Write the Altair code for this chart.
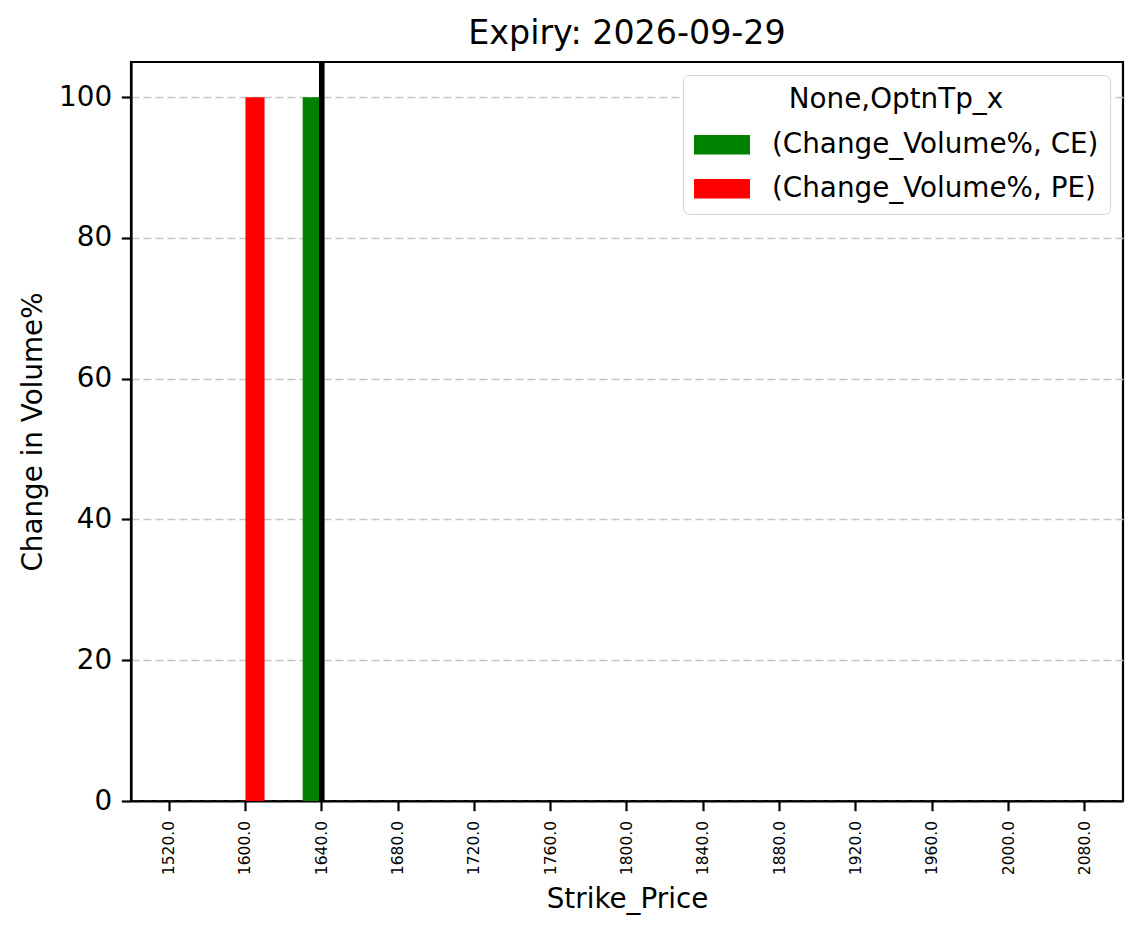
import altair as alt
import pandas as pd

# ---- data ----
strikes = [1520.0, 1600.0, 1640.0, 1680.0, 1720.0, 1760.0, 1800.0,
           1840.0, 1880.0, 1920.0, 1960.0, 2000.0, 2080.0]
ce_change = [0, 0, 100, 0, 0, 0, 0, 0, 0, 0, 0, 0, 0]
pe_change = [0, 100, 0, 0, 0, 0, 0, 0, 0, 0, 0, 0, 0]
series_types = ["CE", "PE"]
series_labels = ["(Change_Volume%, CE)", "(Change_Volume%, PE)"]
series_colors = ["#008000", "#ff0000"]
spot_strike = 1640.0
y_ticks = [0, 20, 40, 60, 80, 100]

strike_labels = [f"{s:.1f}" for s in strikes]

rows = []
for lab, ce, pe in zip(strike_labels, ce_change, pe_change):
    rows.append({"Strike": lab, "Type": "CE", "Series": series_labels[0], "Value": ce})
    rows.append({"Strike": lab, "Type": "PE", "Series": series_labels[1], "Value": pe})
df = pd.DataFrame(rows)
spot_df = pd.DataFrame({"Strike": [f"{spot_strike:.1f}"]})

FONT = "DejaVu Sans"
x_scale = alt.Scale(domain=strike_labels, paddingInner=0, paddingOuter=0)

bars = alt.Chart(df).mark_bar().encode(
    x=alt.X("Strike:N", scale=x_scale, title="Strike_Price",
            axis=alt.Axis(labelAngle=270, labelFontSize=15.5)),
    xOffset=alt.XOffset("Type:N", scale=alt.Scale(domain=series_types,
                                                  paddingInner=0, paddingOuter=1)),
    y=alt.Y("Value:Q", scale=alt.Scale(domain=[0, 105], nice=False, zero=True),
            title="Change in Volume%",
            axis=alt.Axis(values=y_ticks, grid=True, gridDash=[8, 4],
                          gridColor="#c6c6c6", gridWidth=1.6, labelFontSize=27.8)),
    color=alt.Color("Series:N",
                    scale=alt.Scale(domain=series_labels, range=series_colors),
                    legend=alt.Legend(title="None,OptnTp_x", orient="top-right", offset=13,
                                      symbolType="M-1,-0.35L1,-0.35L1,0.35L-1,0.35Z",
                                      symbolSize=3136, symbolStrokeWidth=0,
                                      symbolOpacity=1,
                                      labelFontSize=27.8, titleFontSize=27.8,
                                      labelFont=FONT, titleFont=FONT,
                                      titleFontWeight="normal", titleColor="black",
                                      labelColor="black",
                                      titleAnchor="middle", titlePadding=3,
                                      titleLimit=600,
                                      labelOffset=22, rowPadding=2,
                                      padding=11, strokeColor="#d4d4d4",
                                      fillColor="white", cornerRadius=6,
                                      labelLimit=600)),
)

spot = alt.Chart(spot_df).mark_rule(color="black", strokeWidth=5.6).encode(
    x=alt.X("Strike:N", scale=x_scale)
)

chart = alt.layer(bars, spot).properties(
    width=992,
    height=739,
    title=alt.TitleParams("Expiry: 2026-09-29", fontSize=33.3, font=FONT,
                          fontWeight="normal", color="black", anchor="middle",
                          offset=8),
    autosize=alt.AutoSizeParams(type="none"),
    padding={"left": 131, "top": 62, "right": 20, "bottom": 138},
    background="white",
).configure_axis(
    labelFont=FONT, titleFont=FONT, labelColor="black", titleColor="black",
    titleFontSize=27.8, titleFontWeight="normal",
    domainColor="black", domainWidth=2.2,
    tickColor="black", tickWidth=2.2, tickSize=9.7, labelPadding=9.7,
    titlePadding=11,
).configure_axisX(grid=False).configure_view(
    stroke="black", strokeWidth=2.2
)

chart.save("out.html", embed_options={"renderer": "svg", "actions": False})
